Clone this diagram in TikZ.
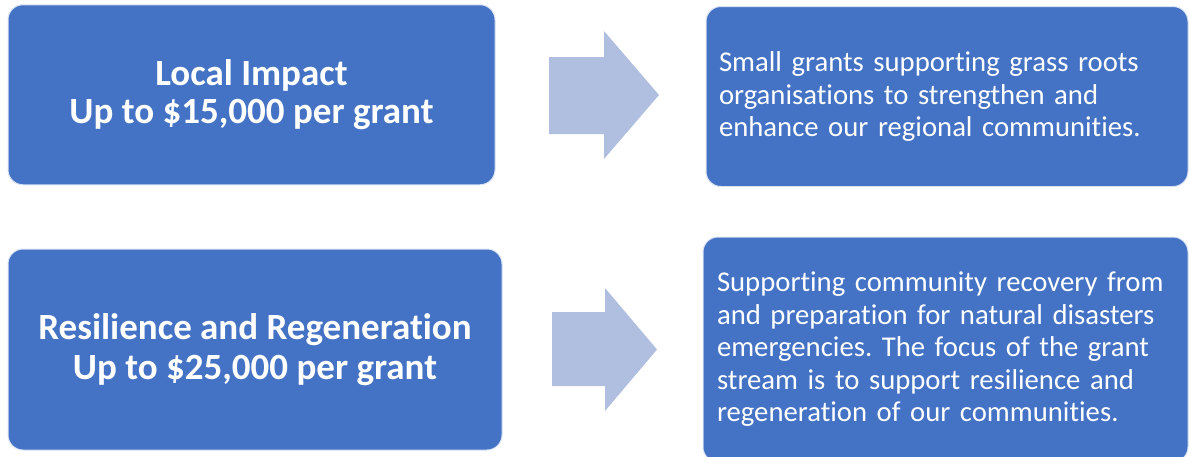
\documentclass[tikz,border=0pt]{standalone}
\usepackage{fontspec}
\setmainfont{Carlito}[Ligatures=CommonOff]
\usetikzlibrary{positioning}

\definecolor{boxblue}{RGB}{68,114,196}
\definecolor{arrowblue}{RGB}{176,190,223}

\frenchspacing
\begin{document}
\begin{tikzpicture}[x=1pt,y=-1pt,
    box/.style={fill=boxblue,draw=white!80!boxblue,line width=1pt,
                rounded corners=15pt,text=white,inner sep=0pt},
    title/.style={box,font=\fontsize{37}{40}\selectfont\bfseries,align=center},
    info/.style={box,font=\fontsize{28.7}{32.5}\selectfont,align=left}]
  \useasboundingbox (0,0) rectangle (1189,456);

  \node[title,minimum width=487pt,minimum height=180pt] (local) at (251.5,94.75)
    {\raisebox{-2pt}{Local Impact}\\Up to \$15,000 per grant};
  \node[info,minimum width=482pt,minimum height=180pt,text width=456pt] (localtxt) at (947,96.5)
    {Small grants supporting grass roots\\organisations to strengthen and\\enhance our regional communities.};

  \node[title,minimum width=494pt,minimum height=201pt] (resil) at (255,349.5)
    {Resilience and Regeneration\\Up to \$25,000 per grant};
  \node[info,minimum width=485pt,minimum height=225pt,text width=457pt] (resiltxt) at (945.5,349.5)
    {Supporting community recovery from\\and preparation for natural disasters\\emergencies. The focus of the grant\\stream is to support resilience and\\regeneration of our communities.};

  % block arrows
  \fill[arrowblue] (549,57) -- (604,57) -- (604,31) -- (659,95) -- (604,159) -- (604,134) -- (549,134) -- cycle;
  \fill[arrowblue] (552,312) -- (605,312) -- (605,288) -- (657,349.5) -- (605,411) -- (605,386) -- (552,386) -- cycle;
\end{tikzpicture}
\end{document}
